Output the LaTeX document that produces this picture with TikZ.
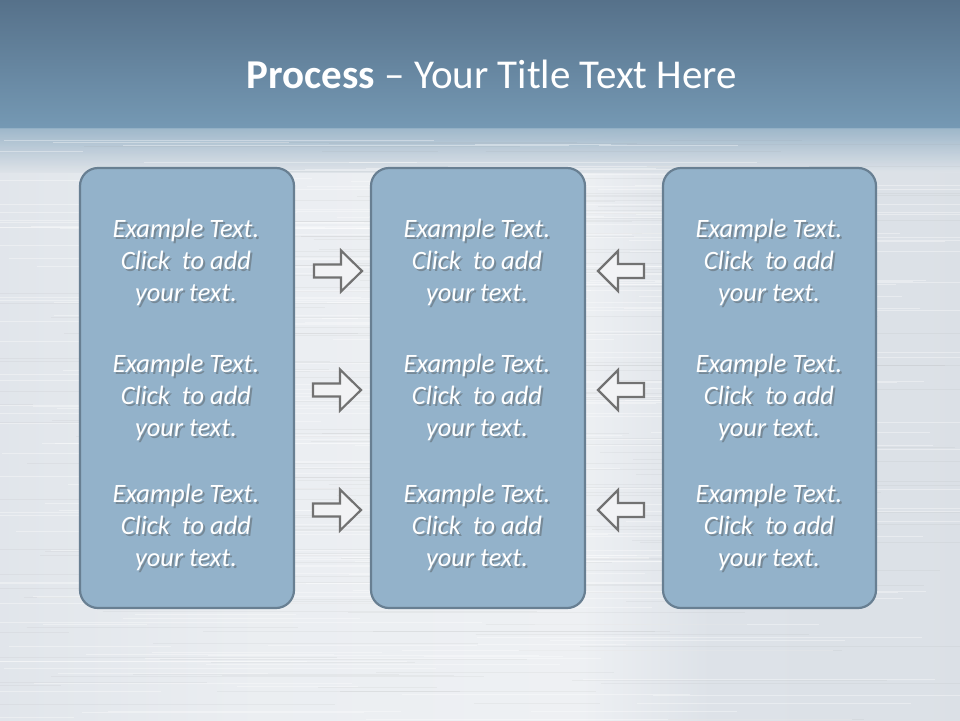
\documentclass[tikz,border=0pt]{standalone}
\usepackage{fontspec}
\setmainfont{Carlito}
\usetikzlibrary{shadings}
\definecolor{topdark}{HTML}{56718A}
\definecolor{toplow}{HTML}{7599B4}
\definecolor{silver}{HTML}{DDE2E8}
\definecolor{boxfill}{HTML}{93B2CA}
\definecolor{boxline}{HTML}{687F92}
\definecolor{arrowline}{HTML}{727272}
\definecolor{arrowfill}{HTML}{F2F3F5}
\pgfdeclarehorizontalshading{brushed}{100bp}{
  color(0bp)=(silver!95!black!40!silver);
  color(20bp)=(silver);
  color(38bp)=(silver!60!white);
  color(55bp)=(silver!50!white);
  color(62bp)=(silver);
  color(80bp)=(silver!95!black!20!silver);
  color(100bp)=(silver!80!white)}
\tikzset{
  x=1pt, y=-1pt,
  panel/.style={draw=boxline, line width=2.2pt, fill=boxfill, rounded corners=18pt},
  bodytext/.style={text=white, align=center, font=\fontsize{26.5}{32}\selectfont\itshape, inner sep=0pt},
  shadowtext/.style={text=black!70, opacity=0.4, align=center, font=\fontsize{26.5}{32}\selectfont\itshape, inner sep=0pt},
  titletext/.style={text=white, font=\fontsize{41}{44}\selectfont, inner sep=0pt},
  arrowshape/.style={draw=arrowline, line width=2.2pt, fill=arrowfill, line join=miter},
  pics/rarrow/.style={code={
    \path[arrowshape] (0,0) -- (-21,-20.5) -- (-21,-6.5) -- (-48,-6.5) -- (-48,6.5) -- (-21,6.5) -- (-21,20.5) -- cycle;}},
  pics/larrow/.style={code={
    \path[arrowshape] (0,0) -- (20,-20) -- (20,-7) -- (46,-7) -- (46,7) -- (20,7) -- (20,20) -- cycle;}}
}
\begin{document}
\begin{tikzpicture}
\useasboundingbox (0,0) rectangle (960,720);
% background
\shade[shading=brushed] (0,0) rectangle (960,720);
\shade[top color=topdark, bottom color=toplow] (0,0) rectangle (960,128);
\shade[top color=toplow!75!white, bottom color=silver, opacity=0.9] (0,128) rectangle (960,172);
% brushed streaks
\pgfmathsetseed{7}
\foreach \i in {1,...,220}{
  \pgfmathsetmacro{\yy}{140+rnd*580}
  \pgfmathsetmacro{\xa}{-100+rnd*800}
  \pgfmathsetmacro{\xl}{100+rnd*400}
  \draw[white, opacity=0.35, line width=0.6pt] (\xa,\yy) -- ++(\xl,0);
}
\foreach \i in {1,...,160}{
  \pgfmathsetmacro{\yy}{140+rnd*580}
  \pgfmathsetmacro{\xa}{-100+rnd*800}
  \pgfmathsetmacro{\xl}{100+rnd*400}
  \draw[black!50, opacity=0.07, line width=0.6pt] (\xa,\yy) -- ++(\xl,0);
}
% title
\node[titletext, anchor=base] (title) at (492,88) {\textbf{Process} – Your Title Text Here};
% panels
\path[panel] (80,168) rectangle (294,608);
\path[panel] (371,168) rectangle (585,608);
\path[panel] (663,168) rectangle (876,608);
% texts
\foreach \cx/\nm in {186/a,477/b,769/c}{
  \foreach \cy/\k in {262/1,397/2,527/3}{
    \node[shadowtext] (s\nm\k) at (\cx+2,\cy+2.5) {Example Text.\\Click\ \ to add\\your text.};
    \node[bodytext] (t\nm\k) at (\cx,\cy) {Example Text.\\Click\ \ to add\\your text.};
  }
}
% arrows
\pic (ra1) at (362,271) {rarrow};
\pic (ra2) at (361,390) {rarrow};
\pic (ra3) at (361,510) {rarrow};
\pic (la1) at (598,271) {larrow};
\pic (la2) at (598,390) {larrow};
\pic (la3) at (598,510) {larrow};
\end{tikzpicture}
\end{document}
